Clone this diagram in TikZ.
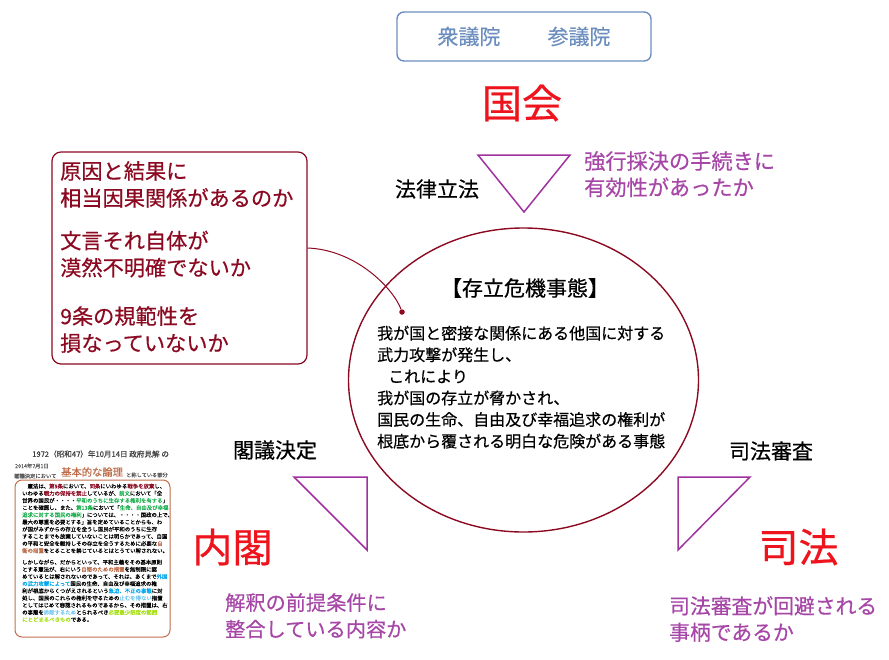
\documentclass[tikz,border=0pt]{standalone}
\usepackage{fontspec}
\usepackage{xcolor}
\usetikzlibrary{shapes.geometric}
\setmainfont[BoldFont={Noto Sans CJK JP},BoldFeatures={FakeBold=0.5}]{Noto Sans CJK JP}
\definecolor{kenpored}{RGB}{139, 10, 34}
\definecolor{kenpopurple}{RGB}{166, 70, 166}
\definecolor{triangleline}{RGB}{160, 50, 160}
\definecolor{sangiblue}{RGB}{108, 142, 191}
\definecolor{kokkaired}{RGB}{238, 20, 30}
\definecolor{ronribrown}{RGB}{190, 110, 75}
\definecolor{midorigreen}{RGB}{30, 175, 80}
\definecolor{gaikokublue}{RGB}{0, 165, 235}
\definecolor{yamuskyblue}{RGB}{120, 200, 240}
\definecolor{seigenlime}{RGB}{165, 225, 20}
\newcommand{\fsize}[2]{\fontsize{#1}{#2}\selectfont}
\newcommand{\kaka}[1]{\textcolor{kenpored}{#1}}
\newcommand{\kami}[1]{\textcolor{midorigreen}{#1}}
\newcommand{\kacha}[1]{\textcolor{ronribrown}{#1}}
\newcommand{\kao}[1]{\textcolor{gaikokublue}{#1}}
\newcommand{\kasora}[1]{\textcolor{yamuskyblue}{#1}}
\newcommand{\kaki}[1]{\textcolor{seigenlime}{#1}}
\tikzset{
  organ/.style={text=kokkaired, font=\fsize{40}{44}\bfseries, inner sep=0pt},
  branch/.style={text=black, font=\fsize{21}{24}\bfseries, inner sep=0pt},
  doubt/.style={text=kenpopurple, anchor=north west, align=left, inner sep=0pt, font=\fsize{21.2}{26.3}\bfseries},
  reason/.style={text=kenpored, anchor=north west, align=left, inner sep=0pt, font=\fsize{21.2}{27}\bfseries},
  triangle/.style={draw=triangleline, line width=1.5pt, line join=miter},
  thumb/.style={anchor=north west, align=left, inner sep=0pt, font=\fsize{5.4}{7.17}\bfseries},
  thumbhead/.style={anchor=west, inner sep=0pt, text=black!65, font=\fsize{5.3}{6}\bfseries}
}

\begin{document}
\begin{tikzpicture}[x=1pt, y=-1pt]
  \useasboundingbox (0,0) rectangle (889,659);

  % kokkai
  \node[draw=sangiblue, line width=1.4pt, rounded corners=7pt, minimum width=254pt, minimum height=49pt, text=sangiblue, font=\fsize{21}{24}\bfseries] (house) at (524,36.5) {衆議院\hspace{47pt}参議院\hspace{4pt}};
  \node[organ] (kokkai) at (522,103) {国会};
  \draw[triangle] (478,155) -- (570,155) -- (524,212) -- cycle;
  \node[branch] (rippo) at (437,189) {法律立法};
  \node[doubt] (saiketsu) at (584,151) {強行採決の手続きに\\有効性があったか};

  % reasons
  \node[draw=kenpored, line width=1.2pt, rounded corners=9pt, fill=white, minimum width=255pt, minimum height=212pt] (reasonbox) at (179.5,258) {};
  \node[reason] (inga) at (60,161) {原因と結果に\\相当因果関係があるのか};
  \node[reason] (mongon) at (60,230.5) {文言それ自体が\\漠然不明確でないか};
  \node[reason] (kihan) at (60,306) {9条の規範性を\\損なっていないか};

  % sonritsu
  \node[draw=kenpored, line width=1.4pt, ellipse, minimum width=350pt, minimum height=304pt, inner sep=0pt] (jitai) at (523.5,380) {};
  \node[font=\fsize{21}{24}\bfseries, inner sep=0pt] (jitaititle) at (525,288) {【存立危機事態】};
  \node[anchor=north west, align=left, inner sep=0pt, font=\fsize{16}{21.6}\bfseries] (jitaitext) at (377,325.5) {我が国と密接な関係にある他国に対する\\武力攻撃が発生し、\\\hspace{11pt}これにより\\我が国の存立が脅かされ、\\国民の生命、自由及び幸福追求の権利が\\根底から覆される明白な危険がある事態};
  \node[circle, fill=kenpored, minimum size=5.5pt, inner sep=0pt] (tensen) at (402,312) {};
  \draw[kenpored, line width=1pt] ([yshift=10pt]reasonbox.east) .. controls +(50,2) and +(-8,-22) .. (tensen);

  % naikaku
  \draw[triangle] (294,477) -- (367,477) -- (367,550) -- cycle;
  \node[branch] (kakugi) at (275,450) {閣議決定};
  \node[organ] (naikaku) at (232.5,547) {内閣};
  \node[doubt, font=\fsize{20.2}{26.5}\bfseries] (zentei) at (225,593) {解釈の前提条件に\\整合している内容か};

  % shiho
  \draw[triangle] (678,477) -- (750,477) -- (678,550) -- cycle;
  \node[branch] (shinsa) at (771,451) {司法審査};
  \node[organ] (shiho) at (798.5,547) {司法};
  \node[doubt, font=\fsize{20.8}{26.3}\bfseries] (kaihi) at (669,596) {司法審査が回避される\\事柄であるか};

  % 1972 kenkai
  \node[anchor=west, inner sep=0pt, text=black!75, font=\fsize{7.6}{9}\bfseries] (kenkai) at (32,454) {1972（昭和47）年10月14日 政府見解 の};
  \node[thumbhead] (date2014) at (15,466) {2014年7月1日};
  \node[thumbhead] (kakugi2014) at (14,476) {閣議決定において};
  \node[anchor=west, inner sep=0pt, text=ronribrown, font=\fsize{10.3}{12}\bfseries] (ronri) at (61,472) {基本的な論理};
  \node[thumbhead, font=\fsize{5.2}{6}\bfseries] (shosuru) at (126,475) {と称している部分};
  \node[draw=ronribrown, line width=1pt, rounded corners=7pt, minimum width=155pt, minimum height=157pt] (kenkaibox) at (92.5,558.5) {};
  \node[thumb] (para1) at (22,483.5) {　憲法は、\kaka{第9条}において、\kaka{同条}にいわゆる\kaka{戦争を放棄}し、\\
いわゆる\kaka{戦力の保持を禁止}しているが、\kami{前文}において「全\\
世界の国民が・・・・\kami{平和のうちに生存する権利を有する}」\\
ことを確認し、また、\kami{第13条}において「\kami{生命、自由及び幸福}\\
\kami{追求に対する国民の権利}」については、・・・・国政の上で、\\
最大の尊重を必要とする」旨を定めていることからも、わ\\
が国がみずからの存立を全うし国民が平和のうちに生存\\
することまでも放棄していないことは明らかであって、自国\\
の平和と安全を維持しその存立を全うするために必要な\kacha{自}\\
\kacha{衛の措置}をとることを禁じているとはとうてい解されない。};
  \node[thumb] (para2) at (22,559.5) {しかしながら、だからといって、平和主義をその基本原則\\
とする憲法が、右にいう\kacha{自衛のための措置}を無制限に認\\
めているとは解されないのであって、それは、あくまで\kao{外国}\\
\kao{の武力攻撃によって}国民の生命、自由及び幸福追求の権\\
利が根底からくつがえされるという\kao{急迫、不正の事態}に対\\
処し、国民のこれらの権利を守るための\kasora{止むを得ない}措置\\
としてはじめて容認されるものであるから、その措置は、右\\
の事態を\kasora{排除するため}とられるべき\kaki{必要最少限度の範囲}\\
\kaki{にとどまるべきもの}である。};
\end{tikzpicture}
\end{document}
